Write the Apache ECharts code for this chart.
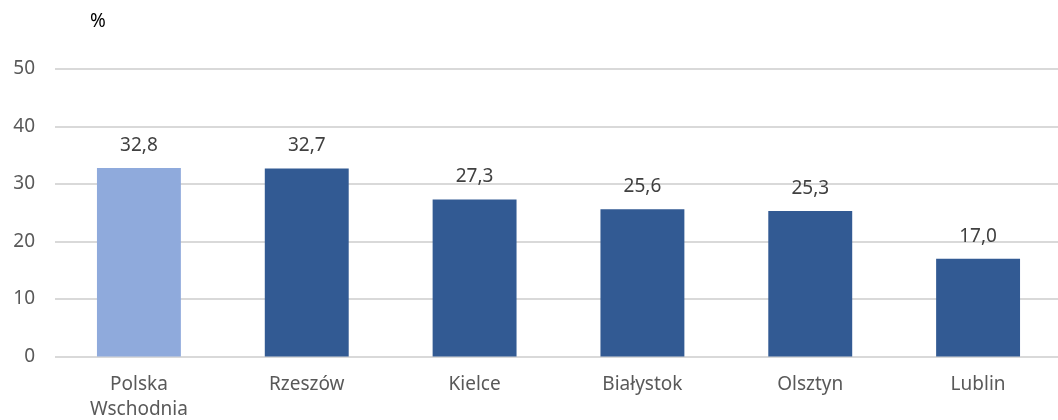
<!DOCTYPE html>
<html><head><meta charset="utf-8">
<script src="https://cdn.jsdelivr.net/npm/echarts@6/dist/echarts.min.js"></script>
<style>html,body{margin:0;padding:0;background:#fff}#c{width:1058px;height:420px}</style>
</head><body><div id="c"></div>
<script>
const categories = ['Polska\nWschodnia', 'Rzeszów', 'Kielce', 'Białystok', 'Olsztyn', 'Lublin'];
const values = [32.8, 32.7, 27.3, 25.6, 25.3, 17.0];
const barColors = ['#8FAADC', '#325A93', '#325A93', '#325A93', '#325A93', '#325A93'];
const yTicks = [0, 10, 20, 30, 40, 50];

const chart = echarts.init(document.getElementById('c'));
const font = 'Noto Sans';
chart.setOption({
  animation: false,
  grid: { left: 55, right: -4, top: 69, bottom: 63.5, outerBoundsMode: 'none', containLabel: false },
  xAxis: {
    type: 'category', data: categories,
    axisLine: { show: false }, axisTick: { show: false },
    axisLabel: { color: '#595959', fontFamily: font, fontSize: 19, margin: 16, lineHeight: 25 }
  },
  yAxis: {
    type: 'value', min: yTicks[0], max: yTicks[yTicks.length - 1], interval: 10,
    name: '%', nameLocation: 'end', nameGap: 38,
    nameTextStyle: { color: '#000', fontFamily: font, fontSize: 19, align: 'left', padding: [0, 0, 0, 35] },
    axisLine: { show: false }, axisTick: { show: false },
    axisLabel: { color: '#595959', fontFamily: font, fontSize: 19, margin: 20 },
    splitLine: { lineStyle: { color: '#D9D9D9', width: 2 } }
  },
  series: [{
    type: 'bar', barWidth: '50%',
    data: values.map((v, i) => ({ value: v, itemStyle: { color: barColors[i] } })),
    label: {
      show: true, position: 'top', distance: 13, color: '#404040', fontFamily: font, fontSize: 19,
      formatter: p => p.value.toFixed(1).replace('.', ',')
    }
  }]
});
</script></body></html>
